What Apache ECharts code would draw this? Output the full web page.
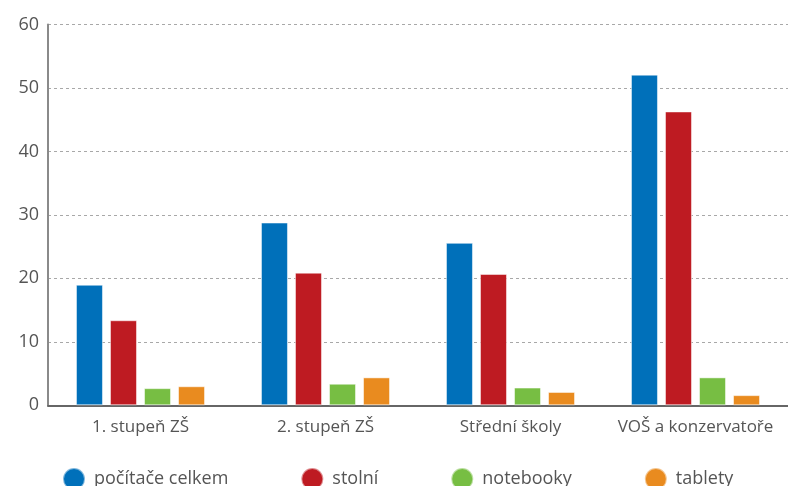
<!DOCTYPE html>
<html>
<head>
<meta charset="utf-8">
<script src="https://cdn.jsdelivr.net/npm/echarts@6/dist/echarts.min.js"></script>
<style>
  html, body { margin: 0; padding: 0; background: #fff; }
  #chart { width: 788px; height: 486px; }
</style>
</head>
<body>
<div id="chart"></div>
<script>
// kategorie škol
const categories = ['1. stupeň ZŠ', '2. stupeň ZŠ', 'Střední školy', 'VOŠ a konzervatoře']
const seriesNames = ['počítače celkem', 'stolní', 'notebooky', 'tablety']
const celkem = [19.0, 28.8, 25.6, 52.1]
const stolni = [13.4, 20.9, 20.7, 46.3]
const notebooky = [2.7, 3.4, 2.8, 4.4]
const tablety = [3.0, 4.4, 2.1, 1.6]
const colors = ['#0070ba', '#be1b22', '#77be43', '#e98b1f']

const font = '"Open Sans", "Noto Sans", sans-serif'
const chart = echarts.init(document.getElementById('chart'))

const values = [celkem, stolni, notebooky, tablety]

const option = {
  animation: false,
  color: colors,
  grid: {
    left: 48,
    top: 24.5,
    bottom: 80.7,
    width: 747
  },
  legend: {
    left: 62,
    top: 467,
    padding: 0,
    icon: 'circle',
    itemWidth: 22,
    itemHeight: 22,
    itemGap: 72,
    textStyle: {
      fontFamily: font,
      fontSize: 18,
      color: '#555',
      padding: [0, 0, 0, 4]
    },
    data: seriesNames
  },
  xAxis: {
    type: 'category',
    data: categories,
    axisLine: { lineStyle: { color: '#666', width: 2 } },
    axisTick: { show: false },
    axisLabel: {
      interval: 0,
      fontFamily: font,
      fontSize: 17,
      color: '#555',
      margin: 13
    }
  },
  yAxis: {
    type: 'value',
    min: 0,
    max: 60,
    interval: 10,
    axisLine: { show: true, lineStyle: { color: '#8a8a8a', width: 2 } },
    axisTick: { show: false },
    axisLabel: {
      fontFamily: font,
      fontSize: 18,
      color: '#555',
      margin: 9
    },
    splitLine: {
      lineStyle: { color: '#a8a8a8', type: [3, 3], width: 1 }
    }
  },
  series: seriesNames.map((name, i) => ({
    name: name,
    type: 'bar',
    data: values[i],
    barWidth: 27,
    barGap: '26%',
    itemStyle: {
      borderColor: 'rgba(255,255,255,0.5)',
      borderWidth: 1
    }
  }))
}

chart.setOption(option)
</script>
</body>
</html>
